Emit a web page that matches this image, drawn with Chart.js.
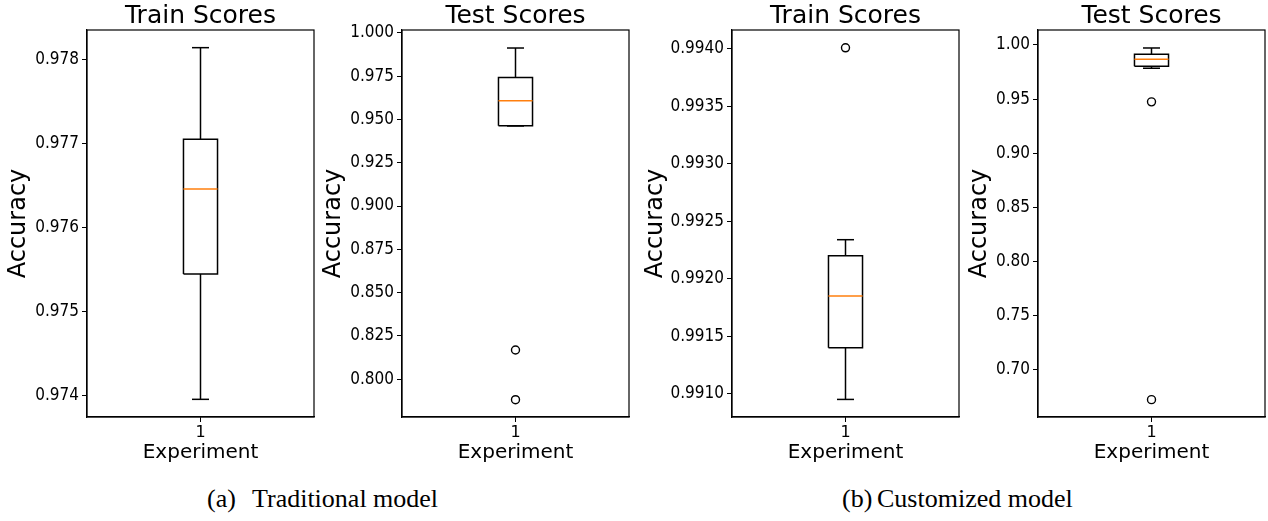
<!DOCTYPE html>
<html><head><meta charset="utf-8">
<script src="https://cdn.jsdelivr.net/npm/chart.js@4.4.1/dist/chart.umd.min.js"></script>
<style>
html,body{margin:0;padding:0;background:#fff;width:1268px;height:521px;overflow:hidden;position:relative;}
.panel{position:absolute;top:0;width:333px;height:470px;}
.cap{position:absolute;font-family:"Liberation Serif","Times New Roman",serif;font-size:26px;white-space:pre;color:#000;line-height:1;top:486px;}
</style></head><body>
<div class="panel" id="p0"><canvas id="c0" width="333" height="470"></canvas></div>
<div class="panel" id="p1"><canvas id="c1" width="333" height="470"></canvas></div>
<div class="panel" id="p2"><canvas id="c2" width="333" height="470"></canvas></div>
<div class="panel" id="p3"><canvas id="c3" width="333" height="470"></canvas></div>
<div class="cap" style="left:207px">(a)</div>
<div class="cap" style="left:252px">Traditional model</div>
<div class="cap" style="left:842px">(b)</div>
<div class="cap" style="left:877px">Customized model</div>
<script>
// ---- data ----
const titles = ['Train Scores', 'Test Scores', 'Train Scores', 'Test Scores'];
const categories = ['1'];
const whiskerLow  = [0.97396, 0.9462, 0.99095, 0.9785];
const q1          = [0.97545, 0.9463, 0.99140, 0.9803];
const median      = [0.97646, 0.9607, 0.99185, 0.9868];
const q3          = [0.97705, 0.9742, 0.99220, 0.9914];
const whiskerHigh = [0.97814, 0.9912, 0.99234, 0.9972];
const outliers    = [[], [0.8169, 0.7882], [0.99401], [0.9475, 0.6726]];
const yTicks0 = [0.974, 0.975, 0.976, 0.977, 0.978];
const yTicks1 = [0.800, 0.825, 0.850, 0.875, 0.900, 0.925, 0.950, 0.975, 1.000];
const yTicks2 = [0.9910, 0.9915, 0.9920, 0.9925, 0.9930, 0.9935, 0.9940];
const yTicks3 = [0.70, 0.75, 0.80, 0.85, 0.90, 0.95, 1.00];
const yTicks = [yTicks0, yTicks1, yTicks2, yTicks3];
const tickDecimals = [3, 3, 4, 2];
const yMin = [0.97375, 0.7782, 0.990797, 0.6566];
const yMax = [0.97835, 1.0016, 0.994165, 1.0138];

// ---- layout / style ----
const plotLeft = [87, 402, 732, 1038];
const axisW = 100;
const yTitlePad = [17, 17, 9, 27];
const boxHalf = 0.075, capHalf = 0.0375;
const SANS = "'DejaVu Sans', sans-serif";
const TICKF = "'DejaVu Sans Condensed', 'DejaVu Sans', sans-serif";

const framePlugin = {
  id: 'frame',
  afterDatasetsDraw(chart) {
    const a = chart.chartArea, ctx = chart.ctx;
    ctx.save();
    ctx.strokeStyle = '#000';
    ctx.lineWidth = 1.2;
    ctx.strokeRect(a.left, a.top, a.right - a.left, a.bottom - a.top);
    ctx.restore();
  }
};

function lineDs(points, color, order) {
  return {data: points, showLine: true, borderColor: color, borderWidth: 1.5,
    pointRadius: 0, pointHoverRadius: 0, fill: false, tension: 0, order: order};
}

for (let i = 0; i < 4; i++) {
  document.getElementById('p' + i).style.left = (plotLeft[i] - axisW) + 'px';
  const c = 1;
  const datasets = [
    lineDs([{x: c - boxHalf, y: median[i]}, {x: c + boxHalf, y: median[i]}], '#ff7f0e', 0),
    lineDs([{x: c - boxHalf, y: q1[i]}, {x: c + boxHalf, y: q1[i]}, {x: c + boxHalf, y: q3[i]},
            {x: c - boxHalf, y: q3[i]}, {x: c - boxHalf, y: q1[i]}], '#000', 1),
    lineDs([{x: c, y: whiskerLow[i]}, {x: c, y: q1[i]}], '#000', 2),
    lineDs([{x: c, y: q3[i]}, {x: c, y: whiskerHigh[i]}], '#000', 2),
    lineDs([{x: c - capHalf, y: whiskerLow[i]}, {x: c + capHalf, y: whiskerLow[i]}], '#000', 2),
    lineDs([{x: c - capHalf, y: whiskerHigh[i]}, {x: c + capHalf, y: whiskerHigh[i]}], '#000', 2),
    {data: outliers[i].map(v => ({x: c, y: v})), showLine: false, pointRadius: 4,
     pointStyle: 'circle', pointBackgroundColor: 'rgba(0,0,0,0)', pointBorderColor: '#000',
     pointBorderWidth: 1.4, order: 0}
  ];
  new Chart(document.getElementById('c' + i), {
    type: 'scatter',
    data: {datasets},
    plugins: [framePlugin],
    options: {
      responsive: false, animation: false, devicePixelRatio: 1,
      layout: {padding: {left: 0, right: 6, top: 0, bottom: 0}},
      plugins: {
        legend: {display: false}, tooltip: {enabled: false},
        title: {display: true, text: titles[i], fullSize: false, color: '#000',
          font: {family: SANS, size: 25, weight: 'normal', lineHeight: 1},
          padding: {top: 4, bottom: 1}}
      },
      scales: {
        x: {
          type: 'linear', min: 0.5, max: 1.5,
          afterBuildTicks: s => { s.ticks = categories.map((lab, k) => ({value: k + 1})); },
          afterFit: s => { s.height = 53; },
          ticks: {callback: v => categories[Math.round(v) - 1] || '', color: '#000',
            font: {family: SANS, size: 16}, padding: 1, maxRotation: 0},
          grid: {display: true, drawOnChartArea: false, drawTicks: true, tickLength: 5, color: '#000', tickWidth: 1},
          border: {display: true, color: '#000', width: 1.2},
          title: {display: true, text: 'Experiment', color: '#000',
            font: {family: SANS, size: 20}, padding: {top: 0, bottom: 5}}
        },
        y: {
          type: 'linear', min: yMin[i], max: yMax[i],
          afterBuildTicks: s => { s.ticks = yTicks[i].map(v => ({value: v})); },
          afterFit: s => { s.width = axisW; },
          ticks: {callback: v => Number(v).toFixed(tickDecimals[i]), color: '#000',
            font: {family: TICKF, size: 17}, padding: 3},
          grid: {display: true, drawOnChartArea: false, drawTicks: true, tickLength: 5, color: '#000', tickWidth: 1},
          border: {display: true, color: '#000', width: 1.2},
          title: {display: true, text: 'Accuracy', color: '#000',
            font: {family: SANS, size: 24}, padding: {top: yTitlePad[i], bottom: 0}}
        }
      }
    }
  });
}
</script>
</body></html>
